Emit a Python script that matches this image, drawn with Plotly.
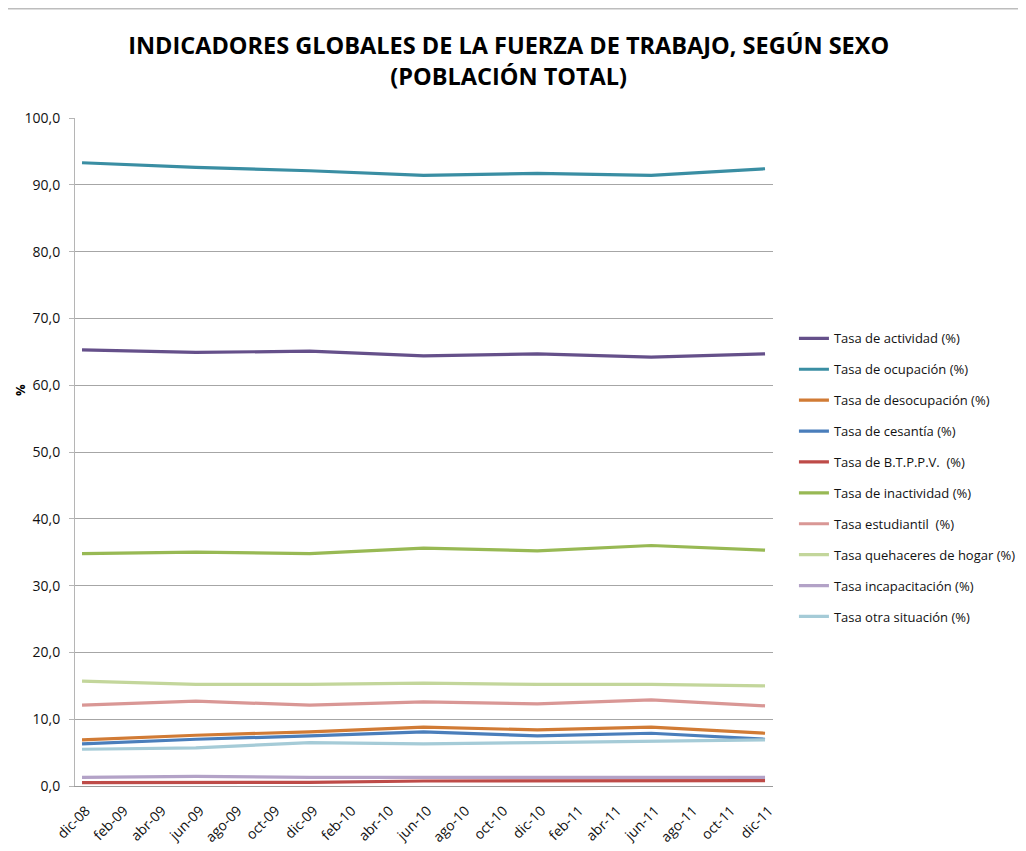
import plotly.graph_objects as go

# x axis categories (every two months) and the semester points that carry data
months = ["dic-08", "feb-09", "abr-09", "jun-09", "ago-09", "oct-09", "dic-09",
          "feb-10", "abr-10", "jun-10", "ago-10", "oct-10", "dic-10",
          "feb-11", "abr-11", "jun-11", "ago-11", "oct-11", "dic-11"]
periods = ["dic-08", "jun-09", "dic-09", "jun-10", "dic-10", "jun-11", "dic-11"]

actividad = [65.3, 64.9, 65.1, 64.4, 64.7, 64.2, 64.7]
ocupacion = [93.3, 92.6, 92.1, 91.4, 91.7, 91.4, 92.4]
desocupacion = [6.9, 7.6, 8.1, 8.8, 8.4, 8.8, 7.9]
cesantia = [6.3, 7.0, 7.5, 8.1, 7.5, 7.9, 7.0]
btppv = [0.5, 0.5, 0.55, 0.75, 0.8, 0.8, 0.8]
inactividad = [34.8, 35.0, 34.8, 35.6, 35.2, 36.0, 35.3]
estudiantil = [12.1, 12.7, 12.1, 12.6, 12.3, 12.9, 12.0]
quehaceres = [15.7, 15.2, 15.2, 15.4, 15.2, 15.2, 15.0]
incapacitacion = [1.3, 1.45, 1.3, 1.25, 1.3, 1.3, 1.3]
otra = [5.5, 5.7, 6.5, 6.3, 6.5, 6.7, 6.9]

series = [
    ("Tasa de actividad (%)", actividad, "#65508a"),
    ("Tasa de ocupación (%)", ocupacion, "#3a8ea3"),
    ("Tasa de desocupación (%)", desocupacion, "#d17b35"),
    ("Tasa de cesantía (%)", cesantia, "#4a7ebb"),
    ("Tasa de B.T.P.P.V.  (%)", btppv, "#be4b48"),
    ("Tasa de inactividad (%)", inactividad, "#98b954"),
    ("Tasa estudiantil  (%)", estudiantil, "#d99795"),
    ("Tasa quehaceres de hogar (%)", quehaceres, "#c3d69b"),
    ("Tasa incapacitación (%)", incapacitacion, "#b3a2c7"),
    ("Tasa otra situación (%)", otra, "#a5cbd7"),
]

FONT = "Open Sans"
PW, PH = 698, 668   # plot area size in px, used to place extras in paper units
PL, PB = 75, 786    # plot area left / bottom as seen on the page

fig = go.Figure()
for i, (name, vals, color) in enumerate(series):
    fig.add_trace(
        go.Scatter(
            x=periods,
            y=vals,
            mode="lines",
            name=name,
            legendgroup=f"g{i}",
            line=dict(color=color, width=3.2),
        )
    )

fig.update_layout(
    width=1026,
    height=851,
    margin=dict(l=67, r=261, t=110, b=73, autoexpand=False),
    paper_bgcolor="white",
    plot_bgcolor="white",
    separators=",.",
    font=dict(family=FONT, size=13, color="#111111"),
    title=dict(
        text="INDICADORES GLOBALES DE LA FUERZA DE TRABAJO, SEGÚN SEXO<br>(POBLACIÓN TOTAL)",
        x=0.488,
        xanchor="center",
        y=0.946,
        yanchor="top",
        font=dict(family=FONT, size=23.5, color="#000000", weight="bold"),
    ),
    showlegend=True,
    legend=dict(
        x=1.030,
        xanchor="left",
        y=0.6925,
        yanchor="top",
        tracegroupgap=11,
        itemwidth=30,
        font=dict(family=FONT, size=13, color="#111111"),
        bgcolor="rgba(0,0,0,0)",
    ),
    annotations=[
        dict(text="<b>%</b>", xref="paper", yref="paper",
             x=(20 - PL) / PW, y=(PB - 390) / PH, showarrow=False,
             xanchor="center", yanchor="middle",
             textangle=-90, font=dict(family=FONT, size=13, color="#000000")),
    ],
    shapes=[
        dict(type="line", xref="paper", yref="paper",
             x0=(6 - PL) / PW, x1=(1026 - PL) / PW,
             y0=(PB - 8.7) / PH, y1=(PB - 8.7) / PH,
             line=dict(color="#bdbdbd", width=1.5)),
    ],
)

fig.update_xaxes(
    type="category",
    categoryorder="array",
    categoryarray=months,
    range=[-0.185, 18.21],
    tickvals=months,
    ticktext=months,
    tickangle=-45,
    showgrid=False,
    showline=True,
    linecolor="#9a9a9a",
    linewidth=1,
    ticks="",
    ticklabelstandoff=10,
    ticklabelshift=4,
    tickfont=dict(family=FONT, size=14, color="#111111"),
    zeroline=False,
    automargin=False,
)

fig.update_yaxes(
    range=[0, 100],
    dtick=10,
    tickformat=".1f",
    showgrid=True,
    gridcolor="#a6a6a6",
    gridwidth=1,
    showline=True,
    linecolor="#b5b5b5",
    linewidth=1,
    ticks="outside",
    ticklen=5,
    tickcolor="#b5b5b5",
    ticklabelstandoff=6,
    zeroline=False,
    tickfont=dict(family=FONT, size=14, color="#111111"),
    automargin=False,
)

fig.write_html("out.html")
